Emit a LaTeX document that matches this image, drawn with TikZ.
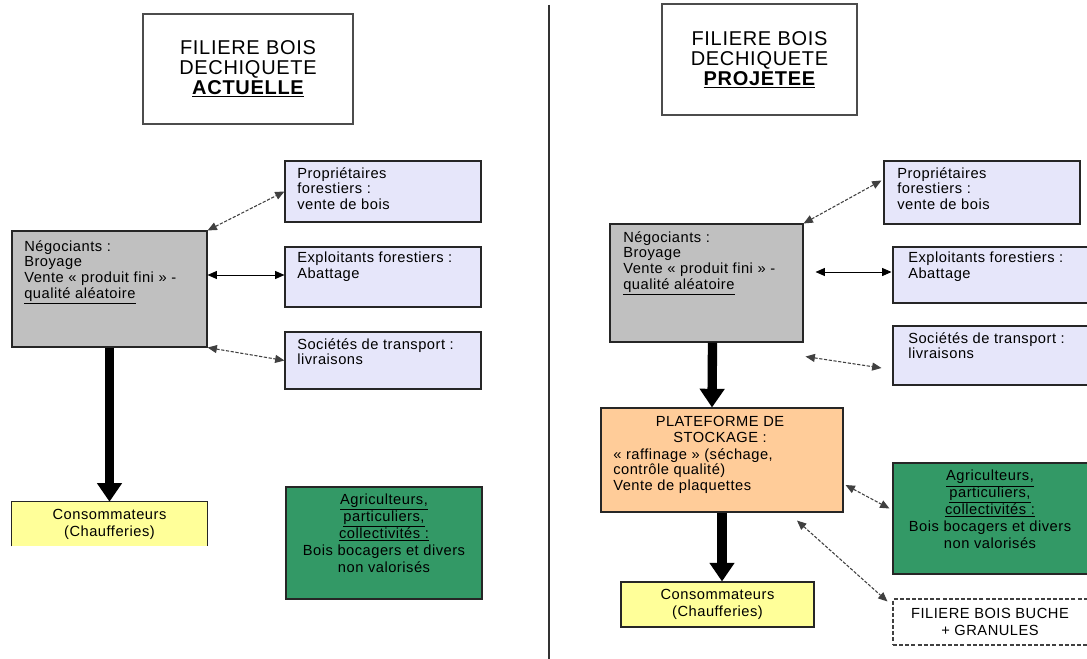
\documentclass[tikz,border=0pt]{standalone}
\usepackage{fontspec}
\setmainfont{Liberation Sans}[LetterSpace=3.5]
\usetikzlibrary{arrows.meta,calc,fit}
\definecolor{greyb}{HTML}{C0C0C0}
\definecolor{lav}{HTML}{E6E6FA}
\definecolor{grn}{HTML}{339966}
\definecolor{yel}{HTML}{FFFF99}
\definecolor{org}{HTML}{FFCC99}
\begin{document}
\begin{tikzpicture}[x=0.75pt,y=-0.75pt,
  box/.style={draw=black!85, line width=0.8pt, inner sep=0pt},
  txt/.style={font=\fontsize{11}{11.8}\selectfont, inner sep=0pt, align=left, anchor=north west},
  ctxt/.style={font=\fontsize{11}{12.6}\selectfont, inner sep=0pt, align=center},
  ttl/.style={font=\fontsize{15}{15}\selectfont, align=center, inner sep=0pt},
  dbl/.style={{Triangle[length=7pt,width=6pt]}-{Triangle[length=7pt,width=6pt]}, line width=0.7pt},
  dsh/.style={dbl, draw=black!75, line width=0.8pt, dash pattern=on 2.4pt off 1.2pt},
  big/.style={-{Triangle[length=14pt,width=18pt]}, line width=7pt}]
\useasboundingbox (0,0) rectangle (1087,659);
\fill[white] (0,0) rectangle (1087,659);

% divider
\draw[line width=1.5pt, black!80] (549,5) -- (549,659);

% ---------- LEFT ----------
\node[box, draw=black!70, fit={(143,14) (353,124)}] (t1) {};
\node[ttl] at (t1.center) {FILIERE BOIS\\DECHIQUETE\\\textbf{\underline{ACTUELLE}}};

\node[box, fill=greyb, fit={(12,231) (207,347)}] (neg1) {};
\node[txt] at (24,240) {Négociants :\\Broyage\\Vente « produit fini » -\\\underline{qualité aléatoire}};

\node[box, fill=lav, fit={(285,161) (481,222)}] (prop1) {};
\node[txt] at (297,167) {Propriétaires\\forestiers :\\vente de bois};

\node[box, fill=lav, fit={(285,247) (481,307)}] (expl1) {};
\node[txt] at (297,252) {Exploitants forestiers :\\Abattage};

\node[box, fill=lav, fit={(285,332) (481,389)}] (soc1) {};
\node[txt] at (297,338) {Sociétés de transport :\\livraisons};

\node[inner sep=0pt, fill=yel, fit={(12,502) (207,546)}] (cons1) {};
\draw[line width=0.8pt, black!85] (cons1.south west) |- (cons1.north east) -- (cons1.south east);
\node[ctxt] at (cons1.center) {Consommateurs\\(Chaufferies)};

\node[box, fill=grn, fit={(286,487) (482,599)}] (agr1) {};
\node[ctxt, font=\fontsize{11}{12.8}\selectfont, anchor=north] at ($(agr1.north)+(0,7)$) {\underline{Agriculteurs,}\\\underline{particuliers,}\\\underline{collectivités :}\\Bois bocagers et divers\\non valorisés};

\draw[dsh] (neg1.north east) -- (prop1.west);
\draw[dbl] ($(neg1.east |- expl1.west)+(0,-2)$) -- ($(expl1.west)+(0,-2)$);
\draw[dsh] (neg1.south east) -- (soc1.west);
\draw[big] (neg1.south) -- (cons1.north);

% ---------- RIGHT ----------
\node[box, draw=black!70, fit={(662,4) (857,115)}] (t2) {};
\node[ttl] at (t2.center) {FILIERE BOIS\\DECHIQUETE\\\textbf{\underline{PROJETEE}}};

\node[box, fill=greyb, fit={(610,224) (803,342)}] (neg2) {};
\node[txt] at (623,231) {Négociants :\\Broyage\\Vente « produit fini » -\\\underline{qualité aléatoire}};

\node[box, fill=lav, fit={(884,161) (1080,224)}] (prop2) {};
\node[txt] at (897,167) {Propriétaires\\forestiers :\\vente de bois};

\node[box, fill=lav, fit={(893,247) (1090,303)}] (expl2) {};
\node[txt] at (908,252) {Exploitants forestiers :\\Abattage};

\node[box, fill=lav, fit={(893,326) (1090,385)}] (soc2) {};
\node[txt] at (908,332) {Sociétés de transport :\\livraisons};

\node[box, fill=org, fit={(601,408) (843,512)}] (plat) {};
\node[ctxt, font=\fontsize{11}{11.8}\selectfont, anchor=north] at (720,416) {PLATEFORME DE\\STOCKAGE :};
\node[txt] at (613,448) {« raffinage » (séchage,\\contrôle qualité)\\Vente de plaquettes};

\node[box, fill=yel, fit={(621,582) (814,627)}] (cons2) {};
\node[ctxt] at (cons2.center) {Consommateurs\\(Chaufferies)};

\node[box, fill=grn, fit={(893,463) (1090,574)}] (agr2) {};
\node[ctxt, anchor=north] at (990,470) {\underline{Agriculteurs,}\\\underline{particuliers,}\\\underline{collectivités :}\\Bois bocagers et divers\\non valorisés};

\node[box, draw=black!75, dash pattern=on 3pt off 1.6pt, fill=white, fit={(893,599) (1090,645)}] (buche) {};
\node[ctxt] at (990,622) {FILIERE BOIS BUCHE\\+ GRANULES};

\draw[dsh] (neg2.north east) -- ($(prop2.west)+(-2,-12)$);
\draw[dbl] ($(neg2.east |- expl2.west)+(12,-3)$) -- ($(expl2.west)+(-1,-3)$);
\draw[dsh] ($(neg2.south east)+(2,14)$) -- ($(soc2.west)+(-11,12.5)$);
\draw[big] ($(neg2.south)+(6,0)$) -- ($(plat.north)+(-10,0)$);
\draw[big] (plat.south) -- (plat.south |- cons2.north);
\draw[dsh] ($(plat.east)+(2,25)$) -- ($(agr2.west)+(-3,-10)$);
\draw[dsh] ($(plat.south)+(75,8)$) -- ($(buche.north west)+(-5,3)$);
\end{tikzpicture}
\end{document}
